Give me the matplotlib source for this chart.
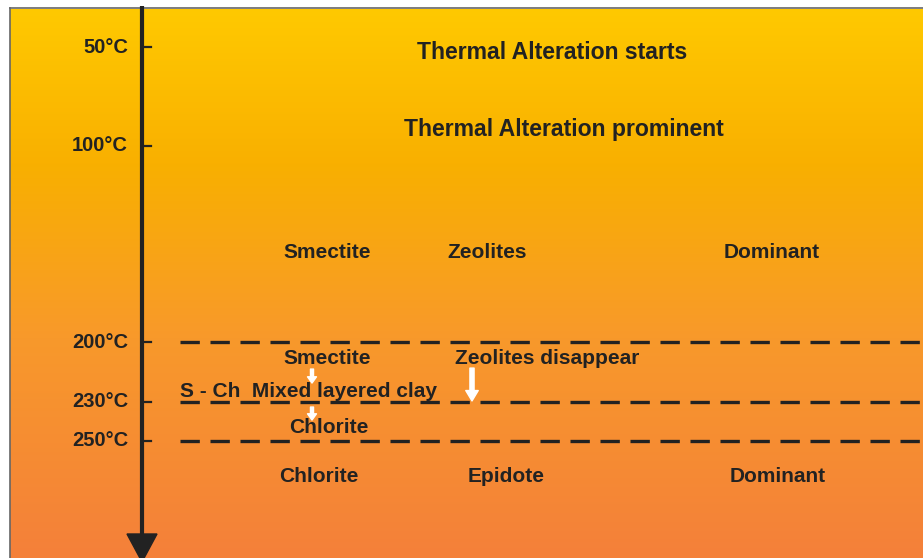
import numpy as np
import matplotlib
matplotlib.use("Agg")
import matplotlib.pyplot as plt
from matplotlib.colors import LinearSegmentedColormap
from matplotlib.patches import Polygon

# temperature scale (y axis is in degrees C)
tick_temps = [50, 100, 200, 230, 250]
tick_labels = ['50°C', '100°C', '200°C', '230°C', '250°C']
boundary_temps = [200, 230, 250]

# text blocks: (x centre in px, temperature row, text)
headings = ['Thermal Alteration starts', 'Thermal Alteration prominent']
heading_x = [552, 564]
heading_t = [52.9, 92.0]

upper_minerals = ['Smectite', 'Zeolites', 'Dominant']
upper_x = [327, 487, 772]
upper_t = 154.5

lower_minerals = ['Chlorite', 'Epidote', 'Dominant']
lower_x = [319, 506, 778]
lower_t = 268.3

TXT = '#222222'
# px -> temperature mapping of the schematic: px = 1.968*T - 51.1
t_top, t_bot = 25.97, 309.5

fig = plt.figure(figsize=(9.23, 5.58), dpi=100)
ax = fig.add_axes([0, 0, 1, 1])
ax.set_xlim(0, 923)
ax.set_ylim(t_bot, t_top)
ax.axis('off')

# background gradient
cmap = LinearSegmentedColormap.from_list(
    'heat', [(0, '#FFC900'), (0.28, '#F9B000'), (0.6, '#F8992B'), (1, '#F4803A')])
grad = np.linspace(0, 1, 256).reshape(-1, 1)
ax.imshow(grad, cmap=cmap, aspect='auto', extent=[10, 923, t_bot, 31.05],
          interpolation='bicubic', zorder=0)
ax.plot([9.5, 9.5], [29.9, t_bot], color='#666666', lw=1.2, zorder=1)
ax.plot([9.5, 923], [29.9, 29.9], color='#666666', lw=1.2, zorder=1)

# main temperature arrow
ax.plot([142, 142], [29.0, 298], color=TXT, lw=3.0, solid_capstyle='butt', zorder=3)
ax.add_patch(Polygon([(127, 297.3), (157, 297.3), (142, 311.5)], closed=True,
                     color=TXT, zorder=3))

for t, lab in zip(tick_temps, tick_labels):
    ax.plot([142, 151], [t, t], color=TXT, lw=1.6, zorder=3)
    ax.text(128, t, lab, ha='right', va='center', fontsize=14.5,
            fontweight='bold', color=TXT, family='Liberation Sans')

# boundaries
for t in boundary_temps:
    ax.plot([180, 923], [t, t], color=TXT, lw=2.4,
            linestyle=(0, (5.8, 3.2)), zorder=2)

tkw = dict(ha='center', va='center', fontweight='bold', color=TXT,
           family='Liberation Sans', zorder=4)
for x, t, s in zip(heading_x, heading_t, headings):
    ax.text(x, t, s, fontsize=16.6, **tkw)
for x, s in zip(upper_x, upper_minerals):
    ax.text(x, upper_t, s, fontsize=15, **tkw)
for x, s in zip(lower_x, lower_minerals):
    ax.text(x, lower_t, s, fontsize=15, **tkw)

ax.text(327, 207.9, 'Smectite', fontsize=15, **tkw)
ax.text(547, 207.9, 'Zeolites disappear', fontsize=15, **tkw)
ax.text(329, 243.4, 'Chlorite', fontsize=15, **tkw)
ax.text(180, 225.1, 'S - Ch  Mixed layered clay', fontsize=15,
        **{**tkw, 'ha': 'left'})

# white transition arrows
small = dict(arrowstyle='simple,head_width=0.65,head_length=0.45,tail_width=0.22',
             color='white', mutation_scale=10, shrinkA=0, shrinkB=0)
big = dict(arrowstyle='simple,head_width=0.9,head_length=0.75,tail_width=0.3',
           color='white', mutation_scale=10, shrinkA=0, shrinkB=0)
ax.annotate('', xy=(312, 220.6), xytext=(312, 213.5), arrowprops=small, zorder=5)
ax.annotate('', xy=(312, 239.4), xytext=(312, 232.8), arrowprops=small, zorder=5)
ax.annotate('', xy=(472, 229.7), xytext=(472, 213.0), arrowprops=big, zorder=5)

fig.savefig('out.png', dpi=100, facecolor='white')
